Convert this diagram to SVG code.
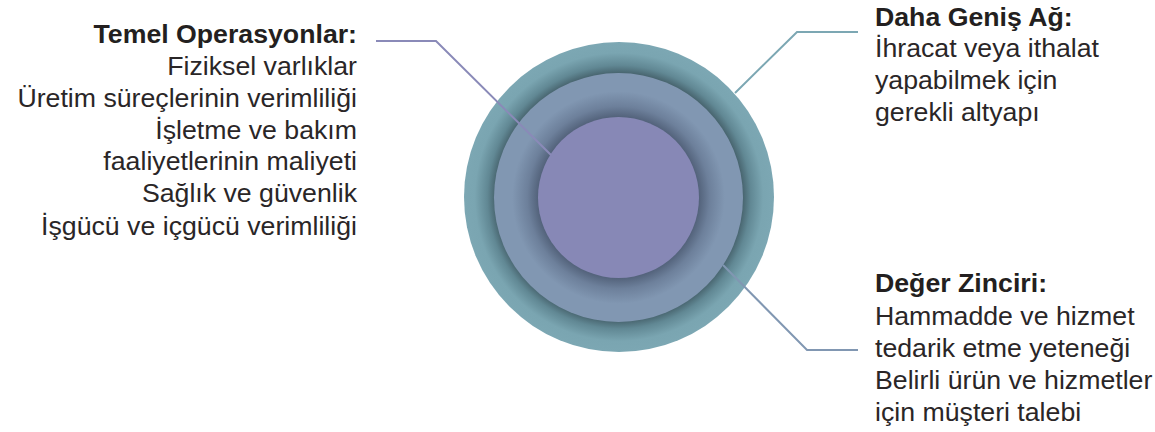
<svg xmlns="http://www.w3.org/2000/svg" width="1155" height="432" viewBox="0 0 1155 432">
<style>
text{font-family:"Liberation Sans",Arial,sans-serif;font-size:26.7px;fill:#2a2627}
.h{font-weight:bold;fill:#231f20}
.r{text-anchor:end}
.c{fill:none;stroke-width:2}
</style>
<defs>
<radialGradient id="gOuter" gradientUnits="userSpaceOnUse" cx="619" cy="197" r="155">
<stop offset="0.79" stop-color="#445f69"/>
<stop offset="0.85" stop-color="#618894"/>
<stop offset="0.93" stop-color="#7aa5b1"/>
<stop offset="1" stop-color="#7ca7b3"/>
</radialGradient>
<radialGradient id="gMid" gradientUnits="userSpaceOnUse" cx="618.5" cy="197.5" r="125">
<stop offset="0.63" stop-color="#4f5e76"/>
<stop offset="0.73" stop-color="#6d809b"/>
<stop offset="0.85" stop-color="#8197b2"/>
<stop offset="1" stop-color="#8197b2"/>
</radialGradient>
</defs>
<g id="outer-circle"><circle cx="619" cy="197" r="155" fill="url(#gOuter)"/></g>
<g id="middle-circle"><circle cx="618.5" cy="197.5" r="124.5" fill="url(#gMid)"/></g>
<g id="inner-circle"><circle cx="618.5" cy="197.5" r="80.5" fill="#8788b6"/></g>
<g id="connectors">
<polyline class="c" stroke="#8a8ab8" points="376,41 436,41 551,155"/>
<polyline class="c" stroke="#7ca7b3" points="735,93 797,32 858,32"/>
<polyline class="c" stroke="#8197b2" points="723,265 807,350 858,350"/>
</g>
<g id="temel-operasyonlar">
<text class="h r" x="357" y="43">Temel Operasyonlar:</text>
<text class="r" x="357" y="75">Fiziksel varlıklar</text>
<text class="r" x="357" y="107">Üretim süreçlerinin verimliliği</text>
<text class="r" x="357" y="139">İşletme ve bakım</text>
<text class="r" x="357" y="170">faaliyetlerinin maliyeti</text>
<text class="r" x="357" y="202">Sağlık ve güvenlik</text>
<text class="r" x="357" y="235">İşgücü ve içgücü verimliliği</text>
</g>
<g id="daha-genis-ag">
<text class="h" x="875" y="26">Daha Geniş Ağ:</text>
<text x="875" y="57">İhracat veya ithalat</text>
<text x="875" y="89">yapabilmek için</text>
<text x="875" y="121">gerekli altyapı</text>
</g>
<g id="deger-zinciri">
<text class="h" x="875" y="292">Değer Zinciri:</text>
<text x="875" y="325">Hammadde ve hizmet</text>
<text x="875" y="357">tedarik etme yeteneği</text>
<text x="875" y="389">Belirli ürün ve hizmetler</text>
<text x="875" y="421">için müşteri talebi</text>
</g>
</svg>
